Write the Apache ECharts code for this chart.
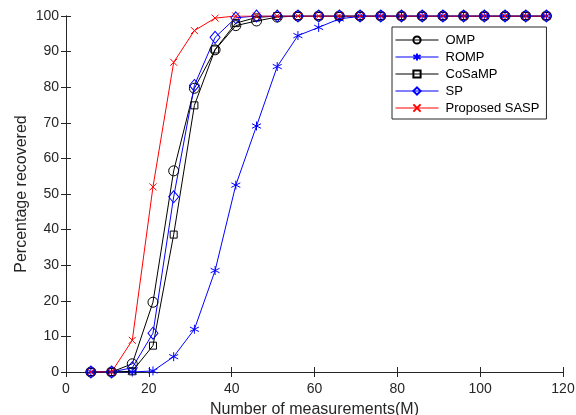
<!DOCTYPE html>
<html>
<head>
<meta charset="utf-8">
<script src="https://cdn.jsdelivr.net/npm/echarts@6/dist/echarts.min.js"></script>
<style>
html,body{margin:0;padding:0;background:#fff;}
#chart{width:576px;height:415px;}
</style>
</head>
<body>
<div id="chart"></div>
<script>
var measurements = [6, 11, 16, 21, 26, 31, 36, 41, 46, 51, 56, 61, 66, 71, 76, 81, 86, 91, 96, 101, 106, 111, 116];
var omp    = [0, 0, 2.3, 19.6, 56.5, 79.7, 90.5, 97.3, 98.6, 99.7, 100, 100, 100, 100, 100, 100, 100, 100, 100, 100, 100, 100, 100];
var romp   = [0, 0, 0, 0.3, 4.3, 12.0, 28.5, 52.5, 69.1, 85.8, 94.5, 96.8, 99.2, 99.9, 100, 100, 100, 100, 100, 100, 100, 100, 100];
var cosamp = [0, 0, 0.2, 7.4, 38.6, 74.9, 90.6, 98.0, 99.6, 100, 100, 100, 100, 100, 100, 100, 100, 100, 100, 100, 100, 100, 100];
var sp     = [0, 0, 1.2, 10.9, 49.2, 80.5, 94.0, 99.5, 100, 100, 100, 100, 100, 100, 100, 100, 100, 100, 100, 100, 100, 100, 100];
var sasp   = [0, 0, 8.9, 52.0, 87.0, 95.9, 99.4, 100, 100, 100, 100, 100, 100, 100, 100, 100, 100, 100, 100, 100, 100, 100, 100];
var xTicks = [0, 20, 40, 60, 80, 100, 120];
var yTicks = [0, 10, 20, 30, 40, 50, 60, 70, 80, 90, 100];
var seriesNames = ['OMP', 'ROMP', 'CoSaMP', 'SP', 'Proposed SASP'];

function pairs(vals) { return measurements.map(function (x, i) { return [x, vals[i]]; }); }

var FONT = 'Liberation Sans, Arial, sans-serif';
var asterisk = 'path://M5,0L5,10M0.7,2.5L9.3,7.5M9.3,2.5L0.7,7.5';
var cross = 'path://M0,0L10,10M10,0L0,10';

function mk(name, vals, color, symbol, size) {
  return {
    name: name, type: 'line', data: pairs(vals),
    symbol: symbol, symbolSize: size,
    lineStyle: { color: color, width: 1 },
    itemStyle: { color: 'rgba(0,0,0,0)', borderColor: color, borderWidth: 1 },
    emphasis: { disabled: true },
    z: 2
  };
}

var chart = echarts.init(document.getElementById('chart'), null, { renderer: 'canvas' });
var axisCommon = {
  type: 'value',
  axisLine: { show: true, lineStyle: { color: '#262626', width: 1 } },
  axisTick: { show: true, inside: true, length: 5, lineStyle: { color: '#262626' } },
  splitLine: { show: false },
  axisLabel: { color: '#262626', fontSize: 14, fontFamily: FONT }
};
chart.setOption({
  animation: false,
  backgroundColor: '#fff',
  grid: { left: 66, right: 13, top: 16, bottom: 43, containLabel: false, outerBoundsMode: 'none' },
  xAxis: [
    Object.assign({}, axisCommon, {
      min: xTicks[0], max: xTicks[xTicks.length - 1], interval: xTicks[1] - xTicks[0],
      position: 'bottom',
      name: 'Number of measurements(M)', nameLocation: 'middle', nameGap: 30,
      nameTextStyle: { color: '#262626', fontSize: 16, fontFamily: FONT },
      axisLabel: { color: '#262626', fontSize: 14, fontFamily: FONT, margin: 10 }
    }),
    Object.assign({}, axisCommon, {
      min: xTicks[0], max: xTicks[xTicks.length - 1], interval: xTicks[1] - xTicks[0],
      position: 'top', axisLabel: { show: false }
    })
  ],
  yAxis: [
    Object.assign({}, axisCommon, {
      min: yTicks[0], max: yTicks[yTicks.length - 1], interval: yTicks[1] - yTicks[0],
      position: 'left',
      name: 'Percentage recovered', nameLocation: 'middle', nameGap: 36, nameMoveOverlap: false,
      nameTextStyle: { color: '#262626', fontSize: 16, fontFamily: FONT },
      axisLabel: { color: '#262626', fontSize: 14, fontFamily: FONT, margin: 7 }
    }),
    Object.assign({}, axisCommon, {
      min: yTicks[0], max: yTicks[yTicks.length - 1], interval: yTicks[1] - yTicks[0],
      position: 'right', axisLabel: { show: false }
    })
  ],
  legend: {
    orient: 'vertical', left: 392, top: 27,
    padding: [6, 7, 4, 3],
    itemWidth: 43, itemHeight: 9, itemGap: 3,
    borderColor: '#262626', borderWidth: 1, backgroundColor: '#fff',
    lineStyle: { width: 1 },
    textStyle: { color: '#000', fontSize: 13, fontFamily: FONT, lineHeight: 14, padding: [0, 0, 0, 2] },
    data: seriesNames
  },
  series: [
    mk(seriesNames[0], omp, '#000000', 'circle', 10),
    mk(seriesNames[1], romp, '#0000ff', asterisk, 9),
    mk(seriesNames[2], cosamp, '#000000', 'rect', 7),
    mk(seriesNames[3], sp, '#0000ff', 'diamond', [10, 12]),
    mk(seriesNames[4], sasp, '#ff0000', cross, 7)
  ]
});
</script>
</body>
</html>
